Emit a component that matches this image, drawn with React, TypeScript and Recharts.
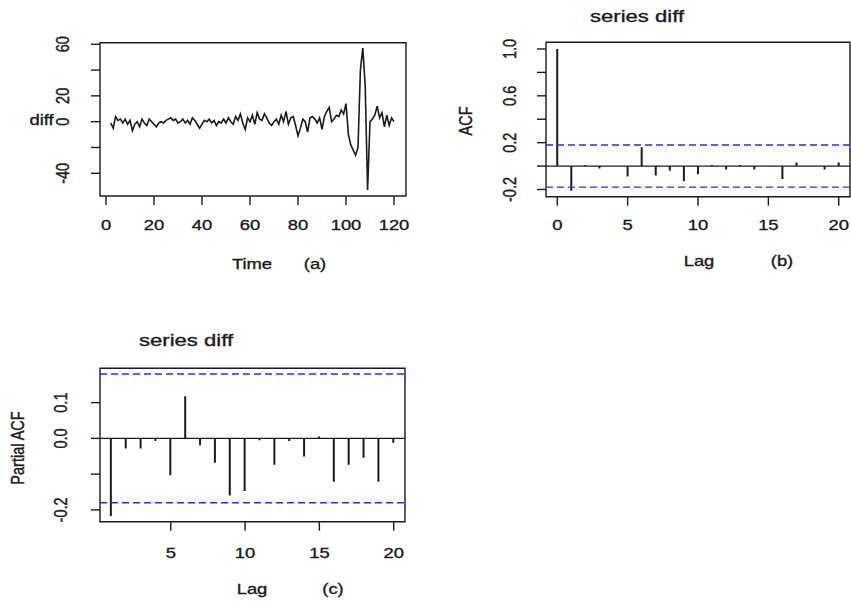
import React from "react";
import {
  ComposedChart,
  Line,
  Bar,
  XAxis,
  YAxis,
  ReferenceLine,
  ReferenceArea,
} from "recharts";

const FONT = '"Liberation Sans", Arial, sans-serif';
const INK = "#1b1b1b";
const CI_BLUE = "#2a2aff";
const SX = 1.27; // the source screenshot is stretched sideways

// (a) differenced series, time 2..120
const timeStart = 2;
const diffValues = [
  -1, -5, 4, 1, 2, -1, 2, -2, 1, -7,
  -2, 0, -4, 2, -1, -3, 2, 0, -2, -4,
  -1, 0, -1, 1, 2, 3, 1, 2, -1, 0,
  2, -1, 1, -2, 3, 1, -2, -5, -2, 1,
  0, 2, -1, 1, -3, 0, -1, 2, -1, 3,
  0, -2, 4, 1, 6, -1, -6, 3, 0, 5,
  -2, 7, 2, 1, 6, 3, -1, -3, 0, 2,
  -2, 5, 0, 8, -2, 3, 4, -3, -11, -5,
  2, 0, -8, 3, 4, 2, -1, 3, -6, 4,
  8, 11, 0, 2, 5, 4, 9, 6, 14, -10,
  -18, -22, -26, -20, 40, 57, 28, -53, 0, 2,
  5, 12, 3, 7, -4, 5, -3, 3, 0,
];
const timeTicks = [0, 20, 40, 60, 80, 100, 120];
const diffTicks = [-40, -20, 0, 20, 40, 60];
const diffTickLabels = [-40, 0, 20, 60];

// (b) ACF, lags 0..20
const acfValues = [
  1.0, -0.21, 0.01, -0.02, 0.0, -0.09, 0.16, -0.08, -0.04, -0.13, -0.07,
  0.01, -0.03, 0.01, -0.03, 0.0, -0.11, 0.03, 0.0, -0.03, 0.03,
];
const acfLagTicks = [0, 5, 10, 15, 20];
const acfTicks = [-0.2, 0, 0.2, 0.4, 0.6, 0.8, 1.0];
const acfTickLabels = [-0.2, 0.2, 0.6, 1.0];

// (c) PACF, lags 1..20
const pacfValues = [
  -0.217, -0.028, -0.028, -0.007, -0.103, 0.118, -0.019, -0.068, -0.16, -0.147,
  -0.005, -0.074, -0.007, -0.051, 0.005, -0.121, -0.074, -0.054, -0.121, -0.012,
];
const pacfLagTicks = [5, 10, 15, 20];
const pacfTicks = [-0.2, -0.1, 0, 0.1];
const pacfTickLabels = [-0.2, 0, 0.1];

const ciBound = 0.18;

const diffData = diffValues.map((v, i) => ({ t: timeStart + i, v }));
const acfData = acfValues.map((v, i) => ({ lag: i, v }));
const pacfData = pacfValues.map((v, i) => ({ lag: i + 1, v }));

// text in the source is a bit heavy (blurred), a thin stroke mimics that
const textStyle = { fontFamily: FONT, fill: INK, stroke: INK, strokeWidth: 0.35 };

function HText({ x, y, size = 14.5, children }: any) {
  return (
    <text transform={`translate(${x},${y}) scale(${SX},1)`} textAnchor="middle" fontSize={size} {...textStyle}>
      {children}
    </text>
  );
}

function VText({ x, y, size = 14.5, children }: any) {
  return (
    <text
      transform={`translate(${x},${y}) scale(${SX},1) rotate(-90)`}
      textAnchor="middle"
      dy="0.35em"
      fontSize={size}
      {...textStyle}
    >
      {children}
    </text>
  );
}

const xTick = (baseline: number, fmt: (v: number) => string) => (p: any) => (
  <HText x={p.x} y={baseline}>{fmt(p.payload.value)}</HText>
);

const yTick = (cx: number, shown: number[], fmt: (v: number) => string) => (p: any) => {
  const v = p.payload.value;
  if (!shown.some((s) => Math.abs(s - v) < 1e-9)) return <g />;
  return <VText x={cx} y={p.y}>{fmt(v)}</VText>;
};

const tickLine = { stroke: INK, strokeWidth: 1.4 };
const boxProps = { fill: "none", stroke: INK, strokeWidth: 1.4, ifOverflow: "visible" as const };
const dec1 = (v: number) => v.toFixed(1);
const int = (v: number) => String(v);

function SeriesPanel() {
  const xd: [number, number] = [-2.5, 125];
  const yd: [number, number] = [-57.6, 61.2];
  return (
    <ComposedChart width={420} height={290} data={diffData} margin={{ top: 42.7, right: 14, left: 0, bottom: 0 }}>
      <XAxis type="number" dataKey="t" domain={xd} allowDataOverflow ticks={timeTicks} interval={0}
        height={94} tickSize={9} tickLine={tickLine} axisLine={false} tick={xTick(230, int)} />
      <YAxis type="number" domain={yd} allowDataOverflow ticks={diffTicks} interval={0}
        width={100} tickSize={9} tickLine={tickLine} axisLine={false} tick={yTick(63, diffTickLabels, int)} />
      <ReferenceArea x1={xd[0]} x2={xd[1]} y1={yd[0]} y2={yd[1]} {...boxProps} />
      <Line type="linear" dataKey="v" stroke={INK} strokeWidth={1.6} dot={false} isAnimationActive={false} />
    </ComposedChart>
  );
}

function AcfPanel() {
  const xd: [number, number] = [-0.8, 20.8];
  const yd: [number, number] = [-0.2615, 1.057];
  return (
    <ComposedChart width={421} height={290} data={acfData} margin={{ top: 42.3, right: 1, left: 0, bottom: 0 }}>
      <XAxis type="number" dataKey="lag" domain={xd} allowDataOverflow ticks={acfLagTicks} interval={0}
        height={93.3} tickSize={9} tickLine={tickLine} axisLine={false} tick={xTick(230, int)} />
      <YAxis type="number" domain={yd} allowDataOverflow ticks={acfTicks} interval={0}
        width={116} tickSize={9} tickLine={tickLine} axisLine={false} tick={yTick(80, acfTickLabels, dec1)} />
      <ReferenceArea x1={xd[0]} x2={xd[1]} y1={yd[0]} y2={yd[1]} {...boxProps} />
      <ReferenceLine y={0} stroke={INK} strokeWidth={1.4} />
      <ReferenceLine y={ciBound} stroke={CI_BLUE} strokeWidth={1.4} strokeDasharray="7 4" />
      <ReferenceLine y={-ciBound} stroke={CI_BLUE} strokeWidth={1.4} strokeDasharray="7 4" />
      <Bar dataKey="v" barSize={2} fill={INK} isAnimationActive={false} />
    </ComposedChart>
  );
}

function PacfPanel() {
  const xd: [number, number] = [0.24, 20.76];
  const yd: [number, number] = [-0.233, 0.196];
  return (
    <ComposedChart width={420} height={302} data={pacfData} margin={{ top: 68.3, right: 15, left: 0, bottom: 0 }}>
      <XAxis type="number" dataKey="lag" domain={xd} allowDataOverflow ticks={pacfLagTicks} interval={0}
        height={80.3} tickSize={9} tickLine={tickLine} axisLine={false} tick={xTick(258, int)} />
      <YAxis type="number" domain={yd} allowDataOverflow ticks={pacfTicks} interval={0}
        width={100} tickSize={9} tickLine={tickLine} axisLine={false} tick={yTick(61, pacfTickLabels, dec1)} />
      <ReferenceArea x1={xd[0]} x2={xd[1]} y1={yd[0]} y2={yd[1]} {...boxProps} />
      <ReferenceLine y={0} stroke={INK} strokeWidth={1.4} />
      <ReferenceLine y={ciBound} stroke={CI_BLUE} strokeWidth={1.4} strokeDasharray="7 4" />
      <ReferenceLine y={-ciBound} stroke={CI_BLUE} strokeWidth={1.4} strokeDasharray="7 4" />
      <Bar dataKey="v" barSize={2} fill={INK} isAnimationActive={false} />
    </ComposedChart>
  );
}

export default function App() {
  return (
    <div style={{ position: "absolute", left: 0, top: 0, width: 851, height: 602, background: "#fff", overflow: "hidden" }}>
      <div style={{ position: "absolute", left: 0, top: 0 }}>
        <SeriesPanel />
      </div>
      <div style={{ position: "absolute", left: 430, top: 0 }}>
        <AcfPanel />
      </div>
      <div style={{ position: "absolute", left: 0, top: 300 }}>
        <PacfPanel />
      </div>
      <svg width={851} height={602} style={{ position: "absolute", left: 0, top: 0, pointerEvents: "none" }}>
        <HText x={41.5} y={125}>diff</HText>
        <HText x={252} y={269}>Time</HText>
        <HText x={315} y={269}>(a)</HText>

        <HText x={637} y={22} size={17.4}>series diff</HText>
        <VText x={466} y={121}>ACF</VText>
        <HText x={699} y={266}>Lag</HText>
        <HText x={782} y={266}>(b)</HText>

        <HText x={186} y={346} size={17.4}>series diff</HText>
        <VText x={18} y={448}>Partial ACF</VText>
        <HText x={252} y={594}>Lag</HText>
        <HText x={333} y={594}>(c)</HText>
      </svg>
    </div>
  );
}
